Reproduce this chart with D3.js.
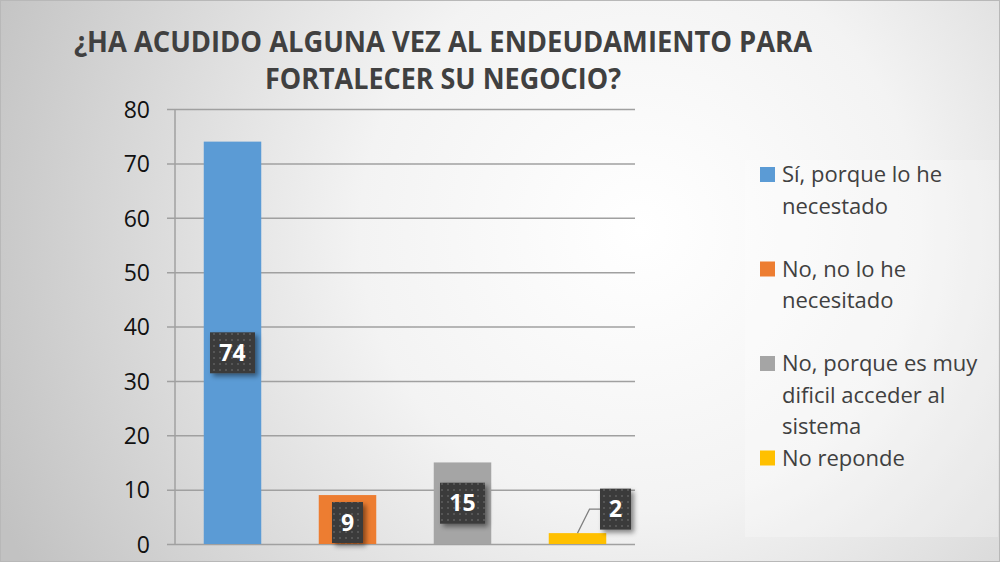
<!DOCTYPE html>
<html>
<head>
<meta charset="utf-8">
<script src="https://cdn.jsdelivr.net/npm/d3@7"></script>
<style>
  html, body { margin: 0; padding: 0; background: #fff; }
  svg { display: block; }
  text { font-family: "Open Sans", "DejaVu Sans", sans-serif; }
</style>
</head>
<body>
<svg id="chart"></svg>
<script>
// data
var titleLines = ["¿HA ACUDIDO ALGUNA VEZ AL ENDEUDAMIENTO PARA", "FORTALECER SU NEGOCIO?"];
var categories = ["Sí, porque lo he necestado", "No, no lo he necesitado",
                  "No, porque es muy dificil acceder al sistema", "No reponde"];
var values = [74, 9, 15, 2];
var colors = ["#5b9bd5", "#ed7d31", "#a5a5a5", "#ffc000"];
var yTicks = [0, 10, 20, 30, 40, 50, 60, 70, 80];

var W = 1001, H = 563;
var margin = {top: 109, right: 366, bottom: 19, left: 175},
    width = W - margin.left - margin.right,
    height = H - margin.top - margin.bottom;

var svg = d3.select("#chart").attr("width", W).attr("height", H);
var defs = svg.append("defs");

// background
var bg = defs.append("radialGradient").attr("id", "bg")
    .attr("gradientUnits", "userSpaceOnUse")
    .attr("cx", 640).attr("cy", 230).attr("r", 700);
bg.append("stop").attr("offset", "0%").attr("stop-color", "#ffffff");
bg.append("stop").attr("offset", "40%").attr("stop-color", "#f3f3f3");
bg.append("stop").attr("offset", "100%").attr("stop-color", "#c2c2c2");

svg.append("rect").attr("x", 0.5).attr("y", 0.5)
    .attr("width", W - 2).attr("height", H - 2)
    .attr("fill", "url(#bg)").attr("stroke", "#b8b8b8");

// label pattern + shadow
var pat = defs.append("pattern").attr("id", "dots")
    .attr("patternUnits", "userSpaceOnUse").attr("width", 6).attr("height", 6);
pat.append("rect").attr("width", 6).attr("height", 6).attr("fill", "#3b3b3b");
pat.append("rect").attr("x", 2).attr("y", 2).attr("width", 2).attr("height", 2).attr("fill", "#575757");

var sh = defs.append("filter").attr("id", "shadow")
    .attr("x", "-30%").attr("y", "-30%").attr("width", "170%").attr("height", "170%");
sh.append("feDropShadow").attr("dx", 3).attr("dy", 3).attr("stdDeviation", 2.5)
    .attr("flood-color", "#000").attr("flood-opacity", 0.45);

// title
var title = svg.append("g").attr("class", "title");
var titleWidths = [738, 356];
titleLines.forEach(function(t, i) {
    title.append("text")
        .attr("x", 443 - titleWidths[i] / 2)
        .attr("y", 52 + i * 37)
        .attr("textLength", titleWidths[i])
        .attr("lengthAdjust", "spacingAndGlyphs")
        .style("font-size", "29px")
        .style("font-weight", "bold")
        .style("fill", "#404040")
        .text(t);
});

var g = svg.append("g")
    .attr("transform", "translate(" + margin.left + "," + margin.top + ")");

var x = d3.scaleBand().domain(categories).range([0, width]).paddingInner(0.5).paddingOuter(0.25);
var y = d3.scaleLinear().domain([0, 80]).range([height, 0]);

// grid + y axis
var yAxis = g.append("g").attr("class", "y-axis")
    .call(d3.axisLeft(y).tickValues(yTicks).tickSize(-width - 8).tickPadding(17).tickSizeOuter(0))
    .attr("transform", "translate(-8,0)");
yAxis.select(".domain").remove();
yAxis.selectAll(".tick line").attr("stroke", "#a0a0a0").attr("stroke-width", 1.5);
yAxis.selectAll(".tick text").style("font-size", "23px").style("fill", "#111")
    .attr("dy", "0.36em");

g.append("line").attr("x1", 0).attr("x2", 0).attr("y1", 0).attr("y2", height)
    .attr("stroke", "#a0a0a0").attr("stroke-width", 1.5);

// bars
g.selectAll(".bar").data(values).enter().append("rect")
    .attr("class", "bar")
    .attr("x", function(d, i) { return x(categories[i]); })
    .attr("width", x.bandwidth())
    .attr("y", function(d) { return y(d); })
    .attr("height", function(d) { return height - y(d); })
    .attr("fill", function(d, i) { return colors[i]; });

// data labels (Excel-like callout boxes)
var labelPos = [
    {dx: 0,  at: function(v) { return y(v / 2) + 10; }},
    {dx: 0,  at: function(v) { return y(v / 2) + 3; }},
    {dx: 0,  at: function(v) { return y(v / 2); }},
    {dx: 38, at: function(v) { return y(v) - 24; }}
];
var labels = g.selectAll(".lab").data(values).enter().append("g").attr("class", "lab");
labels.each(function(d, i) {
    var el = d3.select(this);
    var cx = x(categories[i]) + x.bandwidth() / 2 + labelPos[i].dx;
    var cy = labelPos[i].at(d);
    var bw = String(d).length > 1 ? 45 : 31, bh = 41;
    if (labelPos[i].dx) {
        var bx = x(categories[i]) + x.bandwidth() / 2;
        el.append("polyline")
            .attr("points", [[bx, y(d)], [bx + 12, cy], [cx - bw / 2, cy]].join(" "))
            .attr("fill", "none").attr("stroke", "#7f7f7f").attr("stroke-width", 1.2);
    }
    el.append("rect")
        .attr("x", cx - bw / 2).attr("y", cy - bh / 2)
        .attr("width", bw).attr("height", bh)
        .attr("fill", "url(#dots)")
        .attr("filter", "url(#shadow)");
    el.append("text")
        .attr("x", cx).attr("y", cy).attr("dy", "0.36em")
        .attr("text-anchor", "middle")
        .style("font-size", "23px").style("font-weight", "bold").style("fill", "#fff")
        .text(d);
});

// legend
var legend = svg.append("g").attr("class", "legend");
legend.append("rect").attr("x", 745).attr("y", 160).attr("width", 253).attr("height", 377)
    .attr("fill", "#ffffff").attr("fill-opacity", 0.25);

var lineH = 31.5, maxW = 214;
categories.forEach(function(c, i) {
    var base = 182 + i * 3 * lineH;
    var item = legend.append("g");
    item.append("rect").attr("x", 760).attr("y", base - 15).attr("width", 15).attr("height", 15)
        .attr("fill", colors[i]);
    var txt = item.append("text").attr("x", 782).attr("y", base)
        .style("font-size", "22px").style("fill", "#404040");
    // wrap words
    var words = c.split(" "), line = [], n = 0;
    var ts = txt.append("tspan").attr("x", 782).attr("y", base);
    words.forEach(function(w) {
        line.push(w);
        ts.text(line.join(" "));
        if (ts.node().getComputedTextLength() > maxW && line.length > 1) {
            line.pop();
            ts.text(line.join(" "));
            line = [w];
            n++;
            ts = txt.append("tspan").attr("x", 782).attr("y", base + n * lineH).text(w);
        }
    });
});
</script>
</body>
</html>
